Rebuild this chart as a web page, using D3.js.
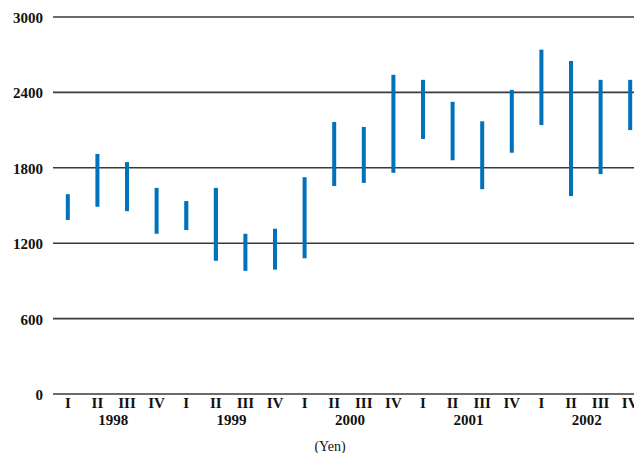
<!DOCTYPE html>
<html>
<head>
<meta charset="utf-8">
<script src="https://cdn.jsdelivr.net/npm/d3@7"></script>
<style>
  html, body { margin: 0; padding: 0; background: #fff; }
  svg { display: block; }
  .tick-label { font-family: "Liberation Serif", "DejaVu Serif", serif; font-weight: bold; font-size: 15px; fill: #111; }
  .unit { font-family: "Liberation Serif", "DejaVu Serif", serif; font-size: 14px; fill: #111; }
</style>
</head>
<body>
<svg id="chart" width="634" height="453"></svg>
<script>
// Quarterly share price range (high / low), yen
const years = ["1998", "1999", "2000", "2001", "2002"];
const quarters = ["I", "II", "III", "IV"];
const highs = [1590, 1910, 1845, 1640, 1535, 1640, 1275, 1315, 1725,
               2165, 2125, 2540, 2500, 2325, 2170, 2420, 2740, 2650, 2500, 2500];
const lows  = [1385, 1490, 1455, 1275, 1305, 1060,  980,  990, 1080,
               1655, 1680, 1760, 2030, 1860, 1630, 1920, 2140, 1575, 1750, 2100];
const yTicks = [0, 600, 1200, 1800, 2400, 3000];
// quarters whose bars carry a thin green edge
const edged = ["1999-I", "1999-II"];

const svg = d3.select("#chart");
const plotLeft = 53, plotRight = 645, plotTop = 17, plotBottom = 394;

const keys = [];
years.forEach(yr => quarters.forEach(q => keys.push(yr + "-" + q)));
const data = keys.map((k, i) => ({ key: k, year: k.split("-")[0], q: k.split("-")[1], high: highs[i], low: lows[i] }));

const x = d3.scaleBand().domain(keys).range([plotLeft, plotRight]).padding(0);
const y = d3.scaleLinear().domain([0, 3000]).range([plotBottom, plotTop]);
const cx = k => x(k) + x.bandwidth() / 2;

// horizontal gridlines
svg.append("g").selectAll("line").data(yTicks).join("line")
  .attr("x1", plotLeft).attr("x2", 634)
  .attr("y1", d => y(d)).attr("y2", d => y(d))
  .attr("stroke", "#3a3a3a").attr("stroke-width", 1.6);

// y tick labels
svg.append("g").selectAll("text").data(yTicks).join("text")
  .attr("class", "tick-label")
  .attr("x", 43).attr("y", d => y(d) + 6)
  .attr("text-anchor", "end")
  .text(d => d);

// high-low bars
const barW = 4;
svg.append("g").selectAll("rect").data(data).join("rect")
  .attr("x", d => cx(d.key) - barW / 2)
  .attr("width", barW)
  .attr("y", d => y(d.high))
  .attr("height", d => y(d.low) - y(d.high))
  .attr("fill", "#0071bb");

svg.append("g").selectAll("rect").data(data.filter(d => edged.includes(d.key))).join("rect")
  .attr("x", d => cx(d.key) + barW / 2 - 1)
  .attr("width", 1)
  .attr("y", d => y(d.high))
  .attr("height", d => y(d.low) - y(d.high))
  .attr("fill", "#00875f");

// quarter labels
svg.append("g").selectAll("text").data(data).join("text")
  .attr("class", "tick-label")
  .attr("x", d => cx(d.key)).attr("y", 408)
  .attr("text-anchor", "middle")
  .text(d => d.q);

// year labels, centred between quarters II and III
svg.append("g").selectAll("text").data(years).join("text")
  .attr("class", "tick-label")
  .attr("x", yr => (cx(yr + "-II") + cx(yr + "-III")) / 2 + 1)
  .attr("y", 425)
  .attr("text-anchor", "middle")
  .text(yr => yr);

svg.append("text").attr("class", "unit")
  .attr("x", 330).attr("y", 451)
  .attr("text-anchor", "middle")
  .text("(Yen)");
</script>
</body>
</html>
